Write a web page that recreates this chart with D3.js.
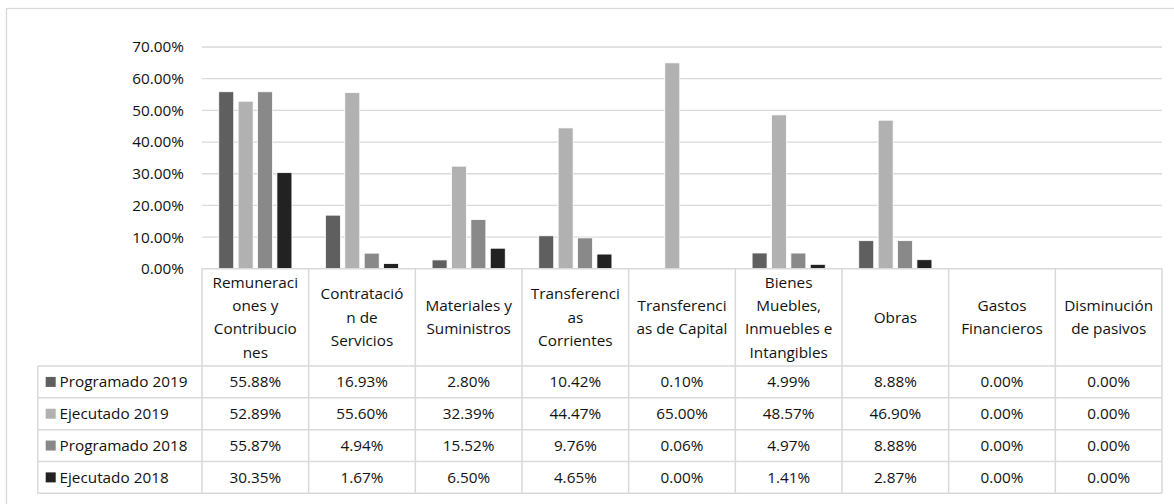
<!DOCTYPE html>
<html>
<head>
<meta charset="utf-8">
<script src="https://cdn.jsdelivr.net/npm/d3@7"></script>
<style>
  html, body { margin: 0; padding: 0; background: #ffffff; }
  svg { display: block; }
  text { font-family: "Open Sans", Lato, sans-serif; fill: #111111; }
</style>
</head>
<body>
<svg id="chart" width="1174" height="504"></svg>
<script>
// Budget categories (header lines as they wrap in the table)
const categories = [
  ["Remuneraci", "ones y", "Contribucio", "nes"],
  ["Contratació", "n de", "Servicios"],
  ["Materiales y", "Suministros"],
  ["Transferenci", "as", "Corrientes"],
  ["Transferenci", "as de Capital"],
  ["Bienes", "Muebles,", "Inmuebles e", "Intangibles"],
  ["Obras"],
  ["Gastos", "Financieros"],
  ["Disminución", "de pasivos"]
];

const seriesNames = ["Programado 2019", "Ejecutado 2019", "Programado 2018", "Ejecutado 2018"];

// Share of budget per category, in percent
const programado2019 = [55.88, 16.93, 2.80, 10.42, 0.10, 4.99, 8.88, 0.00, 0.00];
const ejecutado2019  = [52.89, 55.60, 32.39, 44.47, 65.00, 48.57, 46.90, 0.00, 0.00];
const programado2018 = [55.87, 4.94, 15.52, 9.76, 0.06, 4.97, 8.88, 0.00, 0.00];
const ejecutado2018  = [30.35, 1.67, 6.50, 4.65, 0.00, 1.41, 2.87, 0.00, 0.00];

const yTicks = [0, 10, 20, 30, 40, 50, 60, 70];

const seriesValues = [programado2019, ejecutado2019, programado2018, ejecutado2018];
const seriesColors = ["#5f5f5f", "#b1b1b1", "#898989", "#222222"];

const svg = d3.select("#chart");
const gridColor = "#d9d9d9";
const fontFamily = "'Open Sans', Lato, sans-serif";
const fontSize = 15.3;

// Chart frame
svg.append("rect")
  .attr("x", 6.5).attr("y", 8.5)
  .attr("width", 1200).attr("height", 600)
  .attr("fill", "none").attr("stroke", gridColor).attr("stroke-width", 1.3);

const plotLeft = 202, plotRight = 1162;
const y = d3.scaleLinear().domain([0, 70]).range([268.8, 47]);
const catIdx = d3.range(categories.length);
const x = d3.scaleBand().domain(catIdx).range([plotLeft, plotRight]).padding(0);
const xs = d3.scaleBand().domain(d3.range(seriesNames.length))
  .range([0, x.bandwidth()]).paddingInner(0.227).paddingOuter(0.864);

// Gridlines
svg.append("g").selectAll("line").data(yTicks.filter(t => t > 0)).join("line")
  .attr("x1", plotLeft).attr("x2", plotRight)
  .attr("y1", d => y(d)).attr("y2", d => y(d))
  .attr("stroke", gridColor).attr("stroke-width", 1.3);

// Y axis labels
const yAxis = d3.axisLeft(y).tickValues(yTicks)
  .tickFormat(d => d.toFixed(2) + "%").tickSize(0).tickPadding(18);
const yG = svg.append("g").attr("transform", `translate(${plotLeft},0)`).call(yAxis);
yG.select(".domain").remove();
yG.selectAll("text")
  .style("font-family", fontFamily)
  .style("font-size", fontSize + "px").attr("fill", "#111111");

// Bars
const groups = svg.append("g").selectAll("g").data(seriesValues).join("g")
  .attr("fill", (d, i) => seriesColors[i]);
groups.each(function (vals, si) {
  d3.select(this).selectAll("rect").data(vals).join("rect")
    .attr("x", (v, ci) => x(ci) + xs(si))
    .attr("width", xs.bandwidth())
    .attr("y", v => y(v))
    .attr("height", v => y(0) - y(v))
    .attr("stroke", "#ffffff").attr("stroke-width", 0.8);
});

// Data table
const tableLeft = 37.7, headerTop = 268.8, headerBottom = 366, tableBottom = 493.3;
const rowY = d3.scaleBand().domain(d3.range(seriesNames.length)).range([headerBottom, tableBottom]);
const table = svg.append("g").attr("stroke", gridColor).attr("stroke-width", 1.5);

// horizontal rules
table.append("line").attr("x1", plotLeft).attr("x2", plotRight)
  .attr("y1", headerTop).attr("y2", headerTop);
table.selectAll("line.row").data(d3.range(seriesNames.length + 1)).join("line")
  .attr("class", "row")
  .attr("x1", tableLeft).attr("x2", plotRight)
  .attr("y1", i => i < seriesNames.length ? rowY(i) : tableBottom)
  .attr("y2", i => i < seriesNames.length ? rowY(i) : tableBottom);
// vertical rules
table.selectAll("line.col").data(d3.range(categories.length + 1)).join("line")
  .attr("class", "col")
  .attr("x1", i => plotLeft + i * x.step()).attr("x2", i => plotLeft + i * x.step())
  .attr("y1", headerTop).attr("y2", tableBottom);
table.append("line").attr("x1", tableLeft).attr("x2", tableLeft)
  .attr("y1", headerBottom).attr("y2", tableBottom);

// Header labels
const lineH = 23.3;
const headerMid = (headerTop + headerBottom) / 2;
svg.append("g").selectAll("text").data(categories).join("text")
  .attr("text-anchor", "middle")
  .style("font-size", fontSize + "px")
  .each(function (lines, ci) {
    const t = d3.select(this);
    const start = headerMid - (lines.length - 1) * lineH / 2;
    lines.forEach((ln, k) => {
      t.append("tspan")
        .attr("x", x(ci) + x.bandwidth() / 2)
        .attr("y", start + k * lineH)
        .attr("dy", "0.35em")
        .text(ln);
    });
  });

// Legend column + values
const rows = svg.append("g").selectAll("g").data(seriesNames).join("g")
  .attr("transform", (d, i) => `translate(0,${rowY(i) + rowY.bandwidth() / 2})`);
rows.append("rect")
  .attr("x", 45.7).attr("y", -5).attr("width", 10).attr("height", 10)
  .attr("fill", (d, i) => seriesColors[i]);
rows.append("text")
  .attr("x", 59.5).attr("dy", "0.35em")
  .style("font-size", fontSize + "px")
  .text(d => d);
rows.each(function (name, si) {
  d3.select(this).selectAll("text.val").data(seriesValues[si]).join("text")
    .attr("class", "val")
    .attr("x", (v, ci) => x(ci) + x.bandwidth() / 2)
    .attr("dy", "0.35em")
    .attr("text-anchor", "middle")
    .style("font-size", fontSize + "px")
    .text(v => v.toFixed(2) + "%");
});
</script>
</body>
</html>
